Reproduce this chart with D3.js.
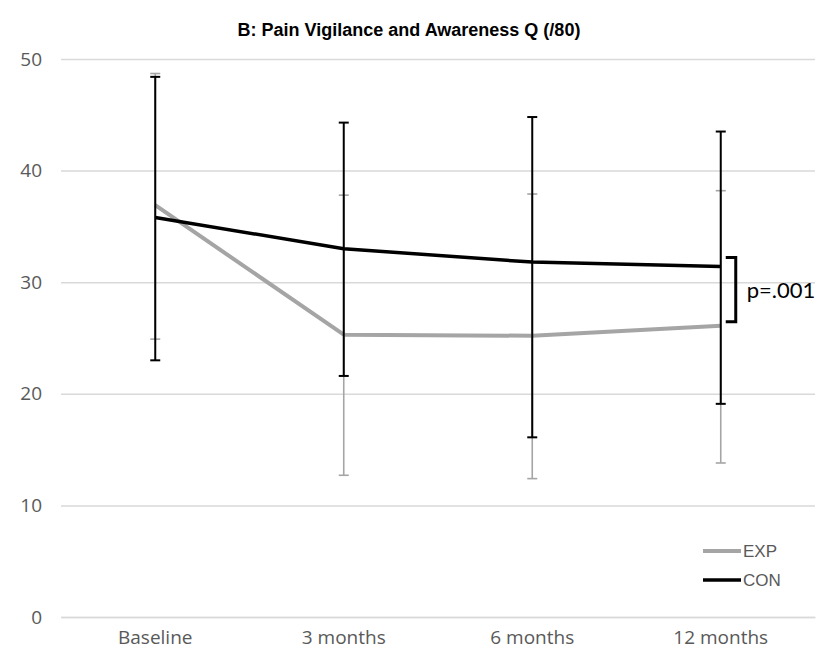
<!DOCTYPE html>
<html>
<head>
<meta charset="utf-8">
<script src="https://cdn.jsdelivr.net/npm/d3@7"></script>
<style>
  html, body { margin: 0; padding: 0; background: #fff; }
  svg { display: block; }
</style>
</head>
<body>
<svg id="chart" width="820" height="655"></svg>
<script>
// Time points and group summaries (mean with upper/lower error-bar limits)
const timepoints = ["Baseline", "3 months", "6 months", "12 months"];
const expMean  = [36.9, 25.3, 25.2, 26.1];
const expUpper = [48.7, 37.8, 37.9, 38.2];
const expLower = [24.9, 12.7, 12.4, 13.8];
const conMean  = [35.8, 33.0, 31.8, 31.4];
const conUpper = [48.4, 44.3, 44.8, 43.5];
const conLower = [23.0, 21.6, 16.1, 19.1];
const yTicks = [0, 10, 20, 30, 40, 50];
const seriesNames = ["EXP", "CON"];

const svg = d3.select("#chart");
const margin = { left: 61, right: 5, top: 59, bottom: 38 };
const W = 820, H = 655;

const x = d3.scaleBand().domain(timepoints).range([margin.left, W - margin.right]).padding(0);
const y = d3.scaleLinear().domain([0, 50]).range([H - margin.bottom, margin.top]);
const cx = d => x(d) + x.bandwidth() / 2;

// Title
svg.append("text")
  .attr("x", 409).attr("y", 36)
  .attr("text-anchor", "middle")
  .attr("font-family", "Liberation Sans, Arial, sans-serif")
  .attr("font-weight", "bold")
  .attr("font-size", 18)
  .attr("fill", "#000")
  .text("B: Pain Vigilance and Awareness Q (/80)");

// Horizontal gridlines
const yAxis = d3.axisLeft(y).tickValues(yTicks).tickSize(-(W - margin.left - margin.right)).tickPadding(19);
const gy = svg.append("g").attr("transform", `translate(${margin.left},0)`).call(yAxis);
gy.select(".domain").remove();
gy.selectAll(".tick line").attr("stroke", "#d9d9d9").attr("stroke-width", 1.5);
gy.selectAll(".tick text")
  .attr("font-family", "Open Sans, sans-serif")
  .attr("font-size", 19)
  .attr("fill", "#595959");

// Category axis
const xAxis = d3.axisBottom(x).tickSize(0).tickPadding(14);
const gx = svg.append("g").attr("transform", `translate(0,${y(0)})`).call(xAxis);
gx.select(".domain").attr("stroke", "#d9d9d9").attr("stroke-width", 1.5);
gx.selectAll(".tick text")
  .attr("font-family", "Open Sans, sans-serif")
  .attr("font-size", 19)
  .attr("fill", "#595959");

const series = [
  { name: "EXP", mean: expMean, upper: expUpper, lower: expLower, color: "#a5a5a5", width: 4, ebWidth: 1.6 },
  { name: "CON", mean: conMean, upper: conUpper, lower: conLower, color: "#000000", width: 3.5, ebWidth: 2 }
];

const line = d3.line().x(d => cx(d.t)).y(d => y(d.v));

series.forEach(s => {
  const g = svg.append("g");
  // error bars
  timepoints.forEach((t, i) => {
    const px = cx(t);
    g.append("line").attr("x1", px).attr("x2", px)
      .attr("y1", y(s.upper[i])).attr("y2", y(s.lower[i]))
      .attr("stroke", s.color).attr("stroke-width", s.ebWidth);
    [s.upper[i], s.lower[i]].forEach(v => {
      g.append("line").attr("x1", px - 5).attr("x2", px + 5)
        .attr("y1", y(v)).attr("y2", y(v))
        .attr("stroke", s.color).attr("stroke-width", s.ebWidth);
    });
  });
  // mean line
  g.append("path")
    .datum(timepoints.map((t, i) => ({ t, v: s.mean[i] })))
    .attr("d", line)
    .attr("fill", "none")
    .attr("stroke", s.color)
    .attr("stroke-width", s.width)
    .attr("stroke-linejoin", "round");
});

// Significance bracket between the groups at 12 months
const lastT = timepoints[timepoints.length - 1];
const bx = cx(lastT) + 15;
const bTop = y(conMean[3]) - 9;
const bBot = y(expMean[3]) - 4;
svg.append("path")
  .attr("d", `M${bx - 10},${bTop} H${bx} V${bBot} H${bx - 10}`)
  .attr("fill", "none").attr("stroke", "#000").attr("stroke-width", 3);
svg.append("text")
  .attr("x", bx + 11).attr("y", (bTop + bBot) / 2 + 8)
  .attr("font-family", "Lato, Liberation Sans, sans-serif")
  .attr("font-size", 22)
  .attr("fill", "#000")
  .text("p=.001");

// Legend
const legend = svg.append("g").attr("transform", "translate(703,551)");
series.forEach((s, i) => {
  const gy0 = i * 29;
  legend.append("line").attr("x1", 0).attr("x2", 38).attr("y1", gy0).attr("y2", gy0)
    .attr("stroke", s.color).attr("stroke-width", s.width);
  legend.append("text").attr("x", 40).attr("y", gy0 + 6)
    .attr("font-family", "Liberation Sans, Arial, sans-serif")
    .attr("font-size", 17)
    .attr("fill", "#595959")
    .text(seriesNames[i]);
});
</script>
</body>
</html>
